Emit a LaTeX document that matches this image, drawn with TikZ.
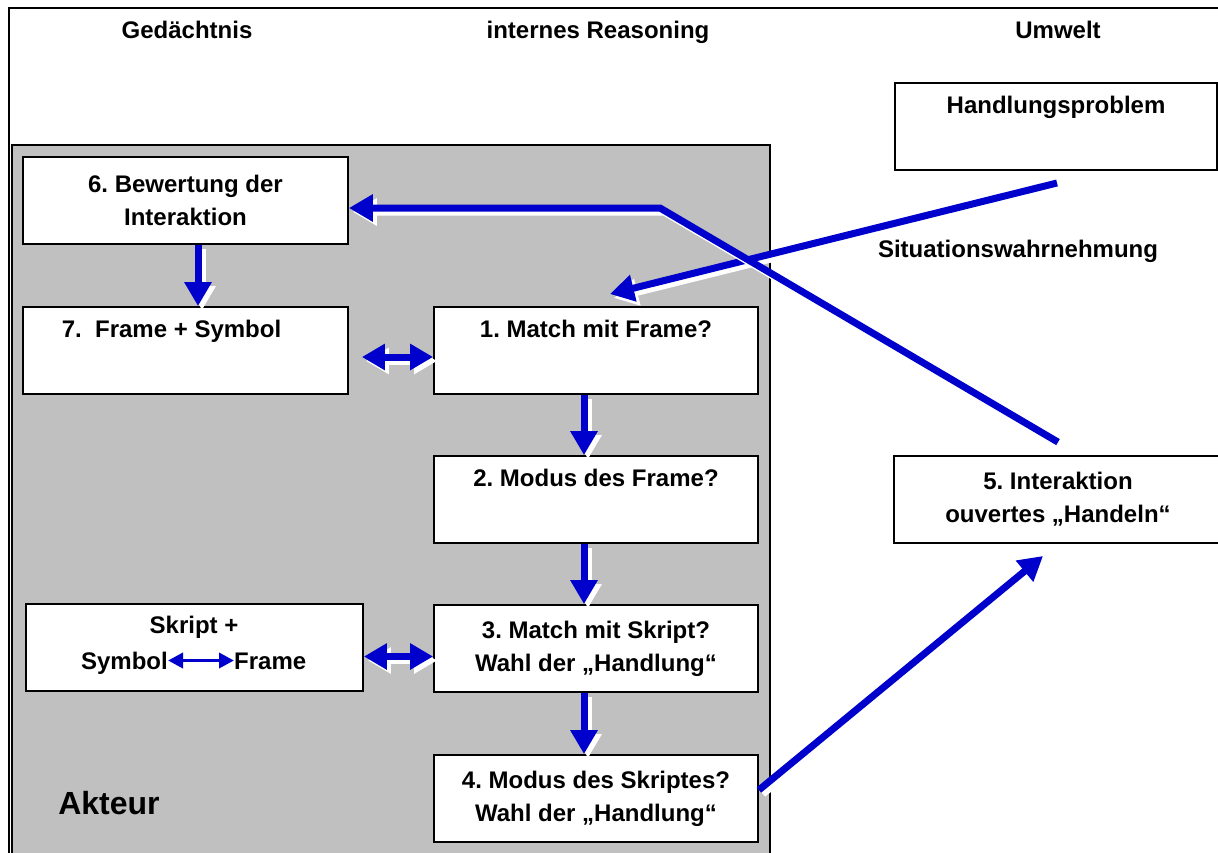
\documentclass[tikz,border=0pt]{standalone}
\usepackage{fontspec}
\setmainfont{Liberation Sans}
\usetikzlibrary{arrows.meta}
\definecolor{akt}{RGB}{192,192,192}
\definecolor{arr}{RGB}{0,0,204}
\newcommand\labfont{\fontsize{24}{33}\selectfont\bfseries}
\newcommand\bigfont{\fontsize{32}{38}\selectfont\bfseries}
\newcommand\shadowed[2]{%
  \draw[#1,white,transform canvas={shift={(4pt,-4pt)}}] #2;
  \draw[#1,arr] #2;}
\tikzset{
  box/.style={draw=black,line width=1.8pt,fill=white,align=center,inner sep=0pt,
              minimum height=87pt,font=\labfont},
  txt/.style={inner sep=0pt,font=\labfont,text height=17pt,text depth=0pt},
  fat/.style={line width=7pt,-{Triangle[length=24pt,width=26pt]}},
  fatboth/.style={line width=7pt,{Triangle[length=23pt,width=25pt]}-{Triangle[length=23pt,width=25pt]}},
  slimboth/.style={line width=3.5pt,arr,{Triangle[length=15pt,width=15pt]}-{Triangle[length=15pt,width=15pt]}}
}
\begin{document}
\frenchspacing
\begin{tikzpicture}[x=1pt,y=-1pt]
\useasboundingbox (0,0) rectangle (1218,852);
\fill[white] (0,0) rectangle (1218,852);
% outer frame and actor region
\draw[line width=1.8pt] (9,8) rectangle (1240,880);
\draw[line width=1.8pt,fill=akt] (12,145) rectangle (770,880);

% column titles
\node[txt] (tg) at (187,30) {Gedächtnis};
\node[txt] (tr) at (598,30) {internes Reasoning};
\node[txt] (tu) at (1058,30) {Umwelt};
\node[txt] (sw) at (1018,249) {Situationswahrnehmung};
\node[inner sep=0pt,font=\bigfont] (akteur) at (109,803) {Akteur};

% boxes
\node[box,minimum width=325pt] (b6) at (185.5,200.5) {6. Bewertung der\\Interaktion};
\node[box,minimum width=325pt] (b7) at (185.5,350.5) {7.\ \ Frame + Symbol\hspace*{28pt}\\\strut};
\node[box,minimum width=324pt] (b1) at (596,350.5) {1. Match mit Frame?\\\strut};
\node[box,minimum width=324pt] (b2) at (596,499.5) {2. Modus des Frame?\\\strut};
\node[box,minimum width=324pt] (b3) at (596,648.5) {3. Match mit Skript?\\Wahl der „Handlung“};
\node[box,minimum width=324pt] (b4) at (596,798.5) {4. Modus des Skriptes?\\Wahl der „Handlung“};
\node[box,minimum width=337pt] (sk) at (194.5,647.5) {};
\node[box,minimum width=322pt] (hp) at (1056,126.5) {Handlungsproblem\\\strut};
\node[box,minimum width=328pt] (b5) at (1058,499.5) {5. Interaktion\\ouvertes „Handeln“};

% Skript box text
\node[txt] (skt) at (194,624.5) {Skript +};
\node[txt,anchor=east] (sym) at (168,660.5) {Symbol};
\node[txt,anchor=west] (frm) at (234,660.5) {Frame};
\draw[slimboth] (sym.east) -- (frm.west);

% coordinates for free ends
\coordinate (J) at (660,208);
\coordinate (sitstart) at (1057,183);
\coordinate (sitend) at (610,294);
\coordinate (b5end) at (1043,556);

% arrows
\shadowed{fat}{([xshift=12.5pt]b6.south) -- ([xshift=12.5pt]b7.north)}
\shadowed{fat}{([xshift=-12pt]b1.south) -- ([xshift=-12pt]b2.north)}
\shadowed{fat}{([xshift=-12pt]b2.south) -- ([xshift=-12pt]b3.north)}
\shadowed{fat}{([xshift=-12pt]b3.south) -- ([xshift=-12pt]b4.north)}
\shadowed{fatboth}{([xshift=13pt,yshift=-6.5pt]b7.east) -- ([yshift=-6.5pt]b1.west)}
\shadowed{fatboth}{([yshift=-9pt]sk.east) -- ([yshift=-9pt]sk.east -| b3.west)}
\shadowed{fat}{(sitstart) -- (sitend)}
\shadowed{fat}{([yshift=13pt]b5.north) -- (J) -- (J -| b6.east)}
\shadowed{fat}{([yshift=8.5pt]b4.east) -- (b5end)}
\end{tikzpicture}
\end{document}
